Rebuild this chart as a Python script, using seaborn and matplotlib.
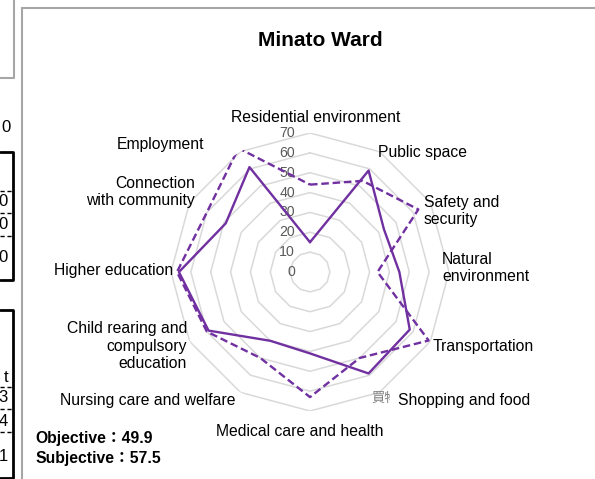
import numpy as np
import pandas as pd
import matplotlib
matplotlib.use("Agg")
import matplotlib.pyplot as plt
import seaborn as sns
from matplotlib import transforms
from matplotlib.lines import Line2D

sns.set_theme(style="white")
plt.rcParams["font.family"] = ["Liberation Sans", "Noto Sans CJK JP", "DejaVu Sans"]

# ---------------- data ----------------
title = "Minato Ward"
categories = [
    "Residential environment", "Public space", "Safety and\nsecurity",
    "Natural\nenvironment", "Transportation", "Shopping and food",
    "Medical care and health", "Nursing care and welfare",
    "Child rearing and\ncompulsory\neducation", "Higher education",
    "Connection\nwith community", "Employment",
]
objective = [15, 59, 43, 45, 58, 59, 41, 40, 59, 66, 49, 61]
subjective = [44, 53, 63, 34, 69, 50, 63, 50, 60, 67, 60, 72]
r_ticks = [0, 10, 20, 30, 40, 50, 60, 70]
summary = ["Objective：49.9", "Subjective：57.5"]
hidden_label = "買物"
left_fragments = [("0", 128), ("0", 201.7), ("0", 224), ("0", 258),
                  ("t", 378), ("3", 398), ("4", 421.7), ("1", 456.7)]

# ---------------- layout ----------------
W, H = 595, 479
fig = plt.figure(figsize=(W / 100, H / 100), dpi=100)
fig.patch.set_facecolor("white")

def fx(x):
    return x / W

def fy(y):
    return 1 - y / H

cx, cy, R = 310, 272, 139
ax = fig.add_axes([fx(cx - R), fy(cy + R), 2 * R / W, 2 * R / H], projection="polar")
ax.set_theta_zero_location("N")
ax.set_theta_direction(-1)
ax.set_ylim(0, 70)
ax.grid(False)
ax.spines["polar"].set_visible(False)
ax.set_xticks([])
ax.set_yticks([])
ax.patch.set_alpha(0)

n = len(categories)
theta = np.arange(n) * 2 * np.pi / n
theta_closed = np.append(theta, 2 * np.pi)

# polygon grid
for v in r_ticks[1:]:
    ax.plot(theta_closed, [v] * (n + 1), color="#D9D9D9", lw=1.1, zorder=1)

# data lines via seaborn
df = pd.concat([
    pd.DataFrame({"theta": theta_closed, "value": objective + objective[:1], "series": "Objective"}),
    pd.DataFrame({"theta": theta_closed, "value": subjective + subjective[:1], "series": "Subjective"}),
])
purple = "#7030A0"
sns.lineplot(data=df, x="theta", y="value", hue="series", style="series",
             palette={"Objective": purple, "Subjective": purple},
             dashes={"Objective": "", "Subjective": (3.2, 1.6)},
             sort=False, estimator=None, lw=1.7, legend=False, ax=ax, zorder=3)
ax.set_xlabel("")
ax.set_ylabel("")
ax.set_xticks([])
ax.set_yticks([])
ax.set_ylim(0, 70)

# radial tick labels
off = transforms.offset_copy(ax.transData, fig=fig, x=-15, y=0, units="dots")
for v in r_ticks:
    ax.text(0, v, str(v), transform=off, ha="right", va="center",
            fontsize=10.2, color="#595959", zorder=2)

# category labels (pixel positions, alignment)
label_pos = [
    (316, 117, "center"), (378, 153, "left"), (424, 211, "left"),
    (442, 268, "left"), (433, 346, "left"), (398, 401, "left"),
    (300, 432, "center"), (235, 400, "right"), (187, 346, "right"),
    (173, 271, "right"), (195, 192, "right"), (204, 145, "right"),
]
fs = 11.3
fig.text(fx(371), fy(398), hidden_label, ha="left", va="center",
         fontsize=9.5, color="#7F7F7F", family=["Noto Sans CJK JP"])
for lab, (x, y, ha) in zip(categories, label_pos):
    kw = {}
    if lab.startswith("Shopping"):
        kw["bbox"] = dict(boxstyle="square,pad=0.5", fc="white", ec="none")
    fig.text(fx(x), fy(y), lab, ha=ha, va="center", multialignment=ha,
             fontsize=fs, color="black", linespacing=1.2, **kw)

# title and summary
fig.text(fx(320), fy(40), title, ha="center", va="center",
         fontsize=15, fontweight="bold", color="black")
for i, s in enumerate(summary):
    fig.text(fx(35), fy(438 + 20 * i), s, ha="left", va="center",
             fontsize=11.3, fontweight="bold", color="black")

# chart frame
fig.add_artist(Line2D([fx(22), fx(W)], [fy(8), fy(8)], color="#A6A6A6", lw=1.5))
fig.add_artist(Line2D([fx(22), fx(22)], [fy(8), fy(H)], color="#A6A6A6", lw=1.5))

# fragments of neighbouring panels at the left edge
fig.add_artist(Line2D([fx(0), fx(14), fx(14)], [fy(78), fy(78), fy(0)], color="#A6A6A6", lw=1.5))
for top, bot, dashes in [(152, 280, [190.7, 213, 235.7]), (310, 478, [386.7, 409, 432])]:
    fig.add_artist(Line2D([fx(0), fx(13), fx(13), fx(0)],
                          [fy(top), fy(top), fy(bot), fy(bot)], color="black", lw=2))
    for d in dashes:
        fig.add_artist(Line2D([fx(0), fx(13)], [fy(d), fy(d)], color="black",
                              lw=1, linestyle=(0, (3, 2))))
for i, (s, y) in enumerate(left_fragments):
    if i == 0:
        fig.text(fx(1), fy(y), s, ha="left", va="center", fontsize=12, color="black")
    else:
        fig.text(fx(8), fy(y), s, ha="right", va="center", fontsize=12, color="black")

fig.savefig("out.png", dpi=100, facecolor="white")
